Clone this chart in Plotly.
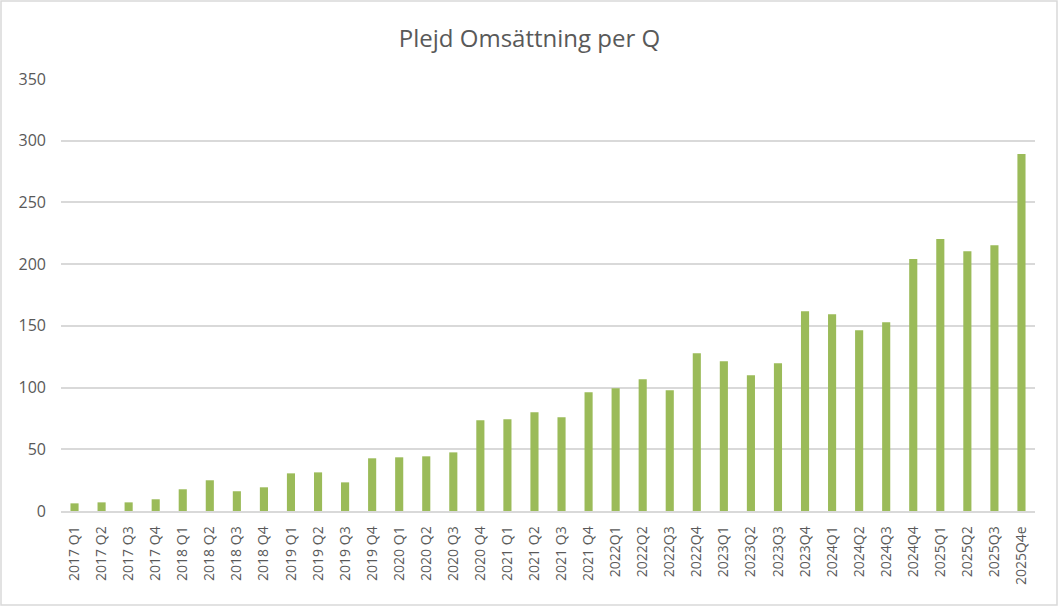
import plotly.graph_objects as go

categories = ["2017 Q1", "2017 Q2", "2017 Q3", "2017 Q4",
              "2018 Q1", "2018 Q2", "2018 Q3", "2018 Q4",
              "2019 Q1", "2019 Q2", "2019 Q3", "2019 Q4",
              "2020 Q1", "2020 Q2", "2020 Q3", "2020 Q4",
              "2021 Q1", "2021 Q2", "2021 Q3", "2021 Q4",
              "2022Q1", "2022Q2", "2022Q3", "2022Q4",
              "2023Q1", "2023Q2", "2023Q3", "2023Q4",
              "2024Q1", "2024Q2", "2024Q3", "2024Q4",
              "2025Q1", "2025Q2", "2025Q3", "2025Q4e"]

revenue = [6.2, 7.0, 7.0, 9.5,
           17.6, 24.9, 16.0, 19.2,
           30.5, 31.3, 23.2, 42.7,
           43.5, 44.3, 47.5, 73.5,
           74.3, 80.0, 76.0, 96.3,
           99.5, 106.8, 97.9, 127.9,
           121.4, 110.0, 119.8, 161.9,
           159.5, 146.5, 153.0, 204.1,
           220.3, 210.5, 215.4, 289.2]

y_ticks = [0, 50, 100, 150, 200, 250, 300, 350]

fig = go.Figure(go.Bar(x=categories, y=revenue, marker_color="#9BBB59",
                       marker_line_width=0))

font_fam = "Open Sans, Noto Sans, sans-serif"
fig.update_layout(
    width=1059, height=607,
    margin=dict(l=61, r=24, t=79, b=96),
    paper_bgcolor="white", plot_bgcolor="white",
    bargap=0.7,
    showlegend=False,
    title=dict(text="Plejd Omsättning per Q", x=0.5, xanchor="center",
               y=1 - 39 / 607, yanchor="middle",
               font=dict(family=font_fam, size=24, color="#595959")),
    font=dict(family=font_fam, color="#595959"),
)
fig.update_xaxes(tickangle=-90, tickfont=dict(size=14, color="#595959"),
                 showgrid=False, showline=True, linecolor="#D9D9D9", linewidth=1.5,
                 ticks="", ticklabelstandoff=8)
fig.update_yaxes(range=[0, 350], tickvals=y_ticks, showgrid=True,
                 gridcolor="#D9D9D9", gridwidth=1.5, zeroline=False,
                 tickfont=dict(size=16, color="#595959"), ticks="",
                 ticklabelstandoff=14)

fig.add_shape(type="rect", xref="paper", yref="paper",
              x0=(1 - 61) / 974, x1=(1057 - 61) / 974,
              y0=-(605 - 511) / 432, y1=(511 - 1) / 432,
              line=dict(color="#D9D9D9", width=1.5), fillcolor="rgba(0,0,0,0)",
              layer="below")

fig.write_html("out.html", config={"displayModeBar": False},
               post_script="document.body.style.margin='0';document.body.style.overflow='hidden';")
